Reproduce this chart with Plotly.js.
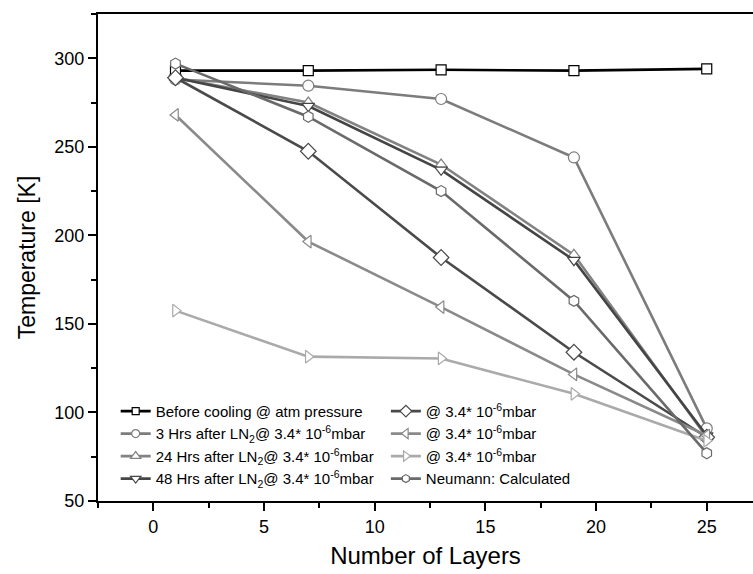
<!DOCTYPE html>
<html>
<head>
<meta charset="utf-8">
<script src="https://cdn.plot.ly/plotly-3.0.1.min.js"></script>
<style>html,body{margin:0;padding:0;background:#fff;}#chart{width:753px;height:574px;}</style>
</head>
<body>
<div id="chart"></div>
<script>
// Data
const layers = [1, 7, 13, 19, 25];
const beforeCooling = [293, 293, 293.5, 293, 294];
const hrs3 = [288, 284.5, 277, 244, 91];
const hrs24 = [289, 275, 240, 189, 86];
const hrs48 = [289, 273, 237, 186, 87];
const seriesDiamond = [289, 247.5, 187.5, 134, 86];
const seriesLeft = [268, 196.5, 159.5, 121.5, 87];
const seriesRight = [157.5, 131.5, 130.5, 110.5, 84];
const neumann = [297, 267, 225, 163, 77];

const names = [
  "Before cooling @ atm pressure",
  "3 Hrs after LN<sub>2</sub>@ 3.4* 10<sup>-6</sup>mbar",
  "24 Hrs after LN<sub>2</sub>@ 3.4* 10<sup>-6</sup>mbar",
  "48 Hrs after LN<sub>2</sub>@ 3.4* 10<sup>-6</sup>mbar",
  "@ 3.4* 10<sup>-6</sup>mbar",
  "@ 3.4* 10<sup>-6</sup>mbar",
  "@ 3.4* 10<sup>-6</sup>mbar",
  "Neumann: Calculated"
];
const yVals = [beforeCooling, hrs3, hrs24, hrs48, seriesDiamond, seriesLeft, seriesRight, neumann];
const colors = ["#000000", "#7c7c7c", "#828282", "#454545", "#4a4a4a", "#8a8a8a", "#aaaaaa", "#6a6a6a"];
const symbols = ["square", "circle", "triangle-up", "triangle-down", "diamond", "triangle-left", "triangle-right", "hexagon"];
const sizes = [10, 11, 11, 11, 12, 11, 11, 11];
const legendSizes = [7, 8, 9, 9, 9, 9, 9, 8];
const legends = ["legend", "legend", "legend", "legend", "legend2", "legend2", "legend2", "legend2"];

const traces = [];
yVals.forEach((y, i) => {
  traces.push({
    x: layers, y: y, name: names[i], type: "scatter", mode: "lines+markers",
    showlegend: false,
    line: {color: colors[i], width: 2.6},
    marker: {symbol: symbols[i], size: sizes[i], color: "#ffffff", line: {color: colors[i], width: 1.2}}
  });
});
// legend-only entries (smaller markers, as in the reference legend)
yVals.forEach((y, i) => {
  traces.push({
    x: [null], y: [null], name: names[i], type: "scatter", mode: "lines+markers",
    legend: legends[i], showlegend: true,
    line: {color: colors[i], width: 2.6},
    marker: {symbol: symbols[i], size: legendSizes[i], color: "#ffffff", line: {color: colors[i], width: 1.2}}
  });
});

const fontFam = "Liberation Sans, Arial, sans-serif";
const layout = {
  width: 753,
  height: 574,
  margin: {l: 98, r: 0, t: 14, b: 73},
  paper_bgcolor: "#ffffff",
  plot_bgcolor: "#ffffff",
  font: {family: fontFam, color: "#000"},
  showlegend: true,
  xaxis: {
    range: [-2.5, 27.09],
    tick0: 0, dtick: 5,
    ticks: "outside", ticklen: 8, tickwidth: 2, tickcolor: "#000",
    minor: {dtick: 2.5, tick0: 0, ticks: "outside", ticklen: 5, tickwidth: 2, tickcolor: "#000"},
    showline: true, linewidth: 2, linecolor: "#000", mirror: true,
    showgrid: false, zeroline: false,
    tickfont: {size: 18, family: fontFam},
    title: {text: "Number of Layers", font: {size: 24, family: fontFam}, standoff: 12}
  },
  yaxis: {
    range: [50, 325],
    tick0: 50, dtick: 50,
    ticks: "outside", ticklen: 8, tickwidth: 2, tickcolor: "#000",
    minor: {dtick: 25, tick0: 50, ticks: "outside", ticklen: 5, tickwidth: 2, tickcolor: "#000"},
    showline: true, linewidth: 2, linecolor: "#000",
    showgrid: false, zeroline: false,
    tickfont: {size: 18, family: fontFam},
    title: {text: "Temperature [K]", font: {size: 23, family: fontFam}, standoff: 12}
  },
  legend: {
    x: 0.027, y: 0.218, xanchor: "left", yanchor: "top",
    bgcolor: "rgba(0,0,0,0)", borderwidth: 0,
    font: {size: 15, family: fontFam}, tracegroupgap: 0
  },
  legend2: {
    x: 0.4395, y: 0.218, xanchor: "left", yanchor: "top",
    bgcolor: "rgba(0,0,0,0)", borderwidth: 0,
    font: {size: 15, family: fontFam}, tracegroupgap: 0
  }
};

Plotly.newPlot("chart", traces, layout, {displayModeBar: false, staticPlot: true});
</script>
</body>
</html>
